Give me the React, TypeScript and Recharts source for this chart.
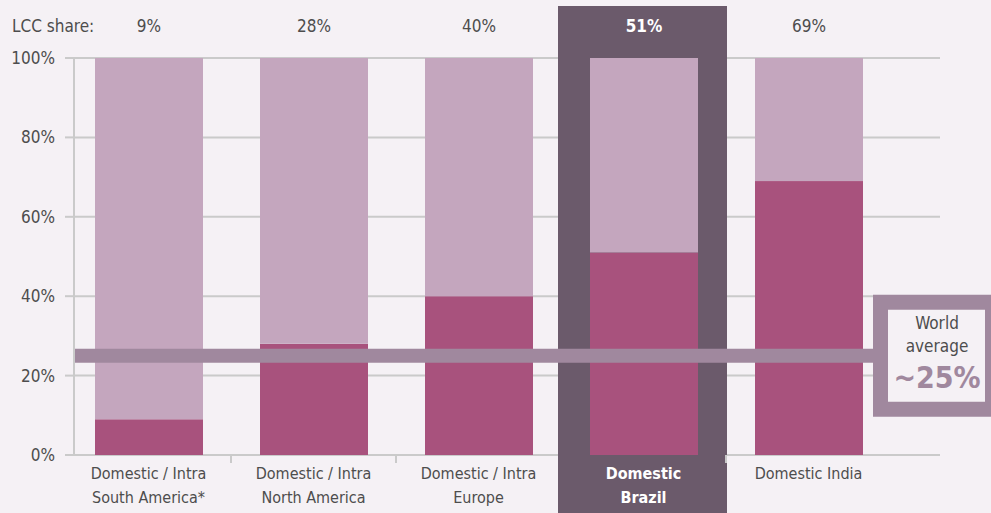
import { BarChart, Bar, XAxis, YAxis, CartesianGrid, ReferenceLine, LabelList } from "recharts";

const markets = ["South America", "North America", "Europe", "Brazil", "India"];
const labelLines = [
  ["Domestic / Intra", "South America*"],
  ["Domestic / Intra", "North America"],
  ["Domestic / Intra", "Europe"],
  ["Domestic", "Brazil"],
  ["Domestic India"],
];
const lccShare = [9, 28, 40, 51, 69];
const otherShare = [91, 72, 60, 49, 31];
const yTicks = [0, 20, 40, 60, 80, 100];
const worldAverage = 25;
const highlighted = "Brazil";

const data = markets.map((m, i) => ({ market: m, lcc: lccShare[i], other: otherShare[i] }));

const FONT = "'Liberation Sans Narrow', 'DejaVu Sans Condensed', 'Roboto', sans-serif";
const BG = "#F5F1F5";
const LCC_COLOR = "#A8527D";
const OTHER_COLOR = "#C4A6BE";
const HIGHLIGHT_BG = "#6B5A6B";
const AVG_COLOR = "#A0889E";
const GRID = "#CACACA";
const TEXT = "#4D4D4D";

const LccShape = (props: any) => {
  const { x, y, width, height, payload } = props;
  const bottom = y + height;
  return (
    <g>
      {payload.market === highlighted && (
        <rect x={x - 32} y={bottom - 449} width={width + 61} height={520} fill={HIGHLIGHT_BG} />
      )}
      <rect x={x} y={y} width={width} height={height} fill={LCC_COLOR} />
    </g>
  );
};

const XTick = (props: any) => {
  const { x, y, payload, index } = props;
  const half = payload.offset ?? 82.5;
  const lines = labelLines[index] ?? [];
  const hot = payload.value === highlighted;
  return (
    <g>
      {index > 0 && !hot && (
        <line x1={x - half} x2={x - half} y1={y - 8} y2={y} stroke={GRID} strokeWidth={2} />
      )}
      {lines.map((l: string, i: number) => (
        <text
          key={i}
          x={x}
          y={y + 16 + i * 24}
          textAnchor="middle"
          fontSize={16}
          fontWeight={hot ? 700 : 400}
          fill={hot ? "#FFFFFF" : TEXT}
          fontFamily={FONT}
        >
          {l}
        </text>
      ))}
    </g>
  );
};

const ShareLabel = (props: any) => {
  const { x, width, value, index } = props;
  const hot = markets[index] === highlighted;
  return (
    <text
      x={x + width / 2}
      y={32}
      textAnchor="middle"
      fontSize={17}
      fontWeight={hot ? 700 : 400}
      fill={hot ? "#FFFFFF" : TEXT}
      fontFamily={FONT}
    >
      {value}%
    </text>
  );
};

const AverageBox = (props: any) => {
  const cy = props.viewBox.y;
  return (
    <g>
      <rect x={873} y={cy - 61} width={118} height={122} fill={AVG_COLOR} />
      <rect x={888} y={cy - 46} width={97} height={92} fill={BG} />
      <text x={937} y={cy - 27} textAnchor="middle" fontSize={17} fill={TEXT} fontFamily={FONT}>
        World
      </text>
      <text x={937} y={cy - 4} textAnchor="middle" fontSize={17} fill={TEXT} fontFamily={FONT}>
        average
      </text>
      <text x={937} y={cy + 32} textAnchor="middle" fontSize={30} fontWeight={700} fill={AVG_COLOR} fontFamily={FONT}>
        ~{worldAverage}%
      </text>
    </g>
  );
};

export default function App() {
  return (
    <div style={{ width: 991, height: 513, background: BG, position: "relative", overflow: "hidden" }}>
      <style>{`body{margin:0}`}</style>
      <div
        style={{
          position: "absolute",
          left: 12,
          top: 15,
          fontSize: 17,
          color: TEXT,
          fontFamily: FONT,
          lineHeight: "22px",
        }}
      >
        LCC share:
      </div>
      <BarChart width={991} height={513} data={data} margin={{ top: 58, right: 51, bottom: 0, left: 0 }} barSize={108}>
        <CartesianGrid
          stroke={GRID}
          strokeWidth={2}
          verticalCoordinatesGenerator={({ offset }: any) => [offset.left]}
        />
        <XAxis
          dataKey="market"
          axisLine={false}
          tickLine={false}
          tick={<XTick />}
          interval={0}
          padding={{ left: -8, right: 49 }}
          height={58}
        />
        <YAxis
          domain={[0, 100]}
          ticks={yTicks}
          width={74}
          tickFormatter={(v: number) => `${v}%`}
          stroke={GRID}
          strokeWidth={2}
          tickSize={9}
          tickMargin={10}
          tick={{ fontSize: 17, fill: TEXT, fontFamily: FONT }}
        />
        <Bar dataKey="lcc" stackId="s" fill={LCC_COLOR} shape={<LccShape />} isAnimationActive={false} />
        <Bar dataKey="other" stackId="s" fill={OTHER_COLOR} isAnimationActive={false}>
          <LabelList dataKey="lcc" content={<ShareLabel />} />
        </Bar>
        <ReferenceLine y={worldAverage} stroke={AVG_COLOR} strokeWidth={14} label={<AverageBox />} />
      </BarChart>
    </div>
  );
}
